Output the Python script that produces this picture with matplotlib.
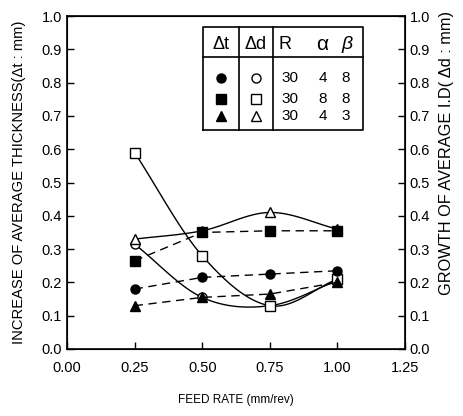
import numpy as np
import matplotlib
matplotlib.use("Agg")
import matplotlib.pyplot as plt

plt.rcParams['font.family'] = ['Liberation Sans', 'DejaVu Sans']

feed = [0.25, 0.50, 0.75, 1.00]
# Delta t (filled, dashed)
dt_circle = [0.18, 0.215, 0.225, 0.235]
dt_square = [0.265, 0.35, 0.355, 0.355]
dt_triangle = [0.13, 0.155, 0.165, 0.20]
# Delta d (open, solid smooth)
dd_circle = [0.315, 0.155, 0.13, 0.205]
dd_square = [0.59, 0.28, 0.13, 0.21]
dd_triangle = [0.33, 0.355, 0.41, 0.36]

legend_rows = [("30", "4", "8"), ("30", "8", "8"), ("30", "4", "3")]
xticks = [0.00, 0.25, 0.50, 0.75, 1.00, 1.25]
yticks = [0.0, 0.1, 0.2, 0.3, 0.4, 0.5, 0.6, 0.7, 0.8, 0.9, 1.0]


def smooth(x, y, n=30):
    x = np.asarray(x, float); y = np.asarray(y, float)
    px = np.concatenate([[2 * x[0] - x[1]], x, [2 * x[-1] - x[-2]]])
    py = np.concatenate([[2 * y[0] - y[1]], y, [2 * y[-1] - y[-2]]])
    xs, ys = [], []
    for i in range(1, len(px) - 2):
        t = np.linspace(0, 1, n)
        p0, p1, p2, p3 = py[i - 1], py[i], py[i + 1], py[i + 2]
        yy = 0.5 * ((2 * p1) + (-p0 + p2) * t + (2 * p0 - 5 * p1 + 4 * p2 - p3) * t ** 2
                    + (-p0 + 3 * p1 - 3 * p2 + p3) * t ** 3)
        xx = px[i] + (px[i + 1] - px[i]) * t
        xs.append(xx); ys.append(yy)
    return np.concatenate(xs), np.concatenate(ys)


fig = plt.figure(figsize=(4.63, 4.16), dpi=100)
ax = fig.add_axes([67 / 463, 67 / 416, 338 / 463, 333 / 416])

ms = 6.5
lw = 1.0
dash = (0, (6, 4))

for ys, mk in [(dd_circle, 'o'), (dd_square, 's'), (dd_triangle, '^')]:
    sx, sy = smooth(feed, ys)
    ax.plot(sx, sy, color='black', lw=lw, zorder=2)
    ax.plot(feed, ys, ls='none', marker=mk, ms=ms, mfc='white', mec='black', mew=1.0, zorder=3)

ax.plot(feed, dt_circle, color='black', lw=lw, ls=dash, marker='o', ms=ms, zorder=4)
ax.plot(feed, dt_square, color='black', lw=lw, ls=dash, marker='s', ms=ms, zorder=4)
ax.plot(feed, dt_triangle, color='black', lw=lw, ls=dash, marker='^', ms=ms, zorder=4)

ax.set_xlim(0, 1.25)
ax.set_ylim(0, 1.0)
ax.set_xticks(xticks)
ax.set_xticklabels([f"{v:.2f}" for v in xticks])
ax.set_yticks(yticks)
ax.set_yticklabels([f"{v:.1f}" for v in yticks])
ax.tick_params(direction='in', length=5, labelsize=10.5, width=1)
ax.tick_params(axis='x', pad=9)
ax.set_xlabel("FEED RATE (mm/rev)", fontsize=8.5, labelpad=13)
ax.set_ylabel("INCREASE OF AVERAGE THICKNESS(Δt : mm)", fontsize=10.6, labelpad=11)
for s in ax.spines.values():
    s.set_linewidth(1.2)

ax2 = ax.twinx()
ax2.set_ylim(0, 1.0)
ax2.set_yticks(yticks)
ax2.set_yticklabels([f"{v:.1f}" for v in yticks])
ax2.tick_params(direction='in', length=5, labelsize=10.5, width=1)
ax2.set_ylabel("GROWTH OF AVERAGE I.D( Δd : mm)", fontsize=11.8, labelpad=6, y=0.59)

# legend table
x0, x1 = 0.503, 1.095
y0, y1 = 0.658, 0.967
yh = 0.877
c1, c2 = 0.636, 0.762
kw = dict(color='black', lw=1.2, zorder=5)
ax.plot([x0, x1, x1, x0, x0], [y0, y0, y1, y1, y0], **kw)
ax.plot([x0, x1], [yh, yh], **kw)
ax.plot([c1, c1], [y0, y1], **kw)
ax.plot([c2, c2], [y0, y1], **kw)
ax.add_patch(plt.Rectangle((x0, y0), x1 - x0, y1 - y0, facecolor='white', zorder=4.5))
hy = 0.915
ax.text(0.569, hy, "Δt", ha='center', va='center', fontsize=13, zorder=6)
ax.text(0.699, hy, "Δd", ha='center', va='center', fontsize=13, zorder=6)
ax.text(0.806, hy, "R", ha='center', va='center', fontsize=13, zorder=6)
ax.text(0.943, hy, "α", ha='center', va='center', fontsize=15, zorder=6)
ax.text(1.035, hy, "β", ha='center', va='center', fontsize=14, style='italic', zorder=6)
rows_y = [0.815, 0.752, 0.700]
for (r, a, b), yy, mk in zip(legend_rows, rows_y, ['o', 's', '^']):
    ax.plot([0.569], [yy], marker=mk, color='black', ms=ms, zorder=6)
    ax.plot([0.699], [yy], marker=mk, mfc='white', mec='black', ms=ms, zorder=6)
    ax.text(0.825, yy, r, ha='center', va='center', fontsize=11, zorder=6)
    ax.text(0.947, yy, a, ha='center', va='center', fontsize=11, zorder=6)
    ax.text(1.030, yy, b, ha='center', va='center', fontsize=11, zorder=6)

fig.savefig("out.png", dpi=100)
